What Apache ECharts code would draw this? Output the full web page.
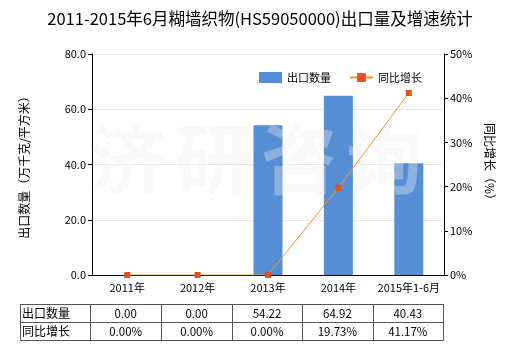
<!DOCTYPE html>
<html><head><meta charset="utf-8">
<script src="https://cdn.jsdelivr.net/npm/echarts@6/dist/echarts.min.js"></script>
<style>html,body{margin:0;padding:0;background:#fff}#c{width:520px;height:350px}</style>
</head><body><div id="c"></div>
<script>
const title = '2011-2015年6月糊墙织物(HS59050000)出口量及增速统计';
const categories = ['2011年','2012年','2013年','2014年','2015年1-6月'];
const exportQty = [0.00, 0.00, 54.22, 64.92, 40.43];
const yoyGrowth = [0.00, 0.00, 0.00, 19.73, 41.17];
const seriesNames = ['出口数量','同比增长'];
const leftTicks = [0, 20, 40, 60, 80];
const rightTicks = [0, 10, 20, 30, 40, 50];
const watermark = ['济','研','咨','询'];

const FONT = '"Noto Sans CJK SC", "Noto Sans", sans-serif';
const gridL = 92, gridR = 444, gridT = 54, gridB = 275;
const tableL = 20;
const rowTops = [304, 322, 340];

const chart = echarts.init(document.getElementById('c'), null, {renderer:'canvas'});

const graphics = [];
const colW = (gridR - gridL) / categories.length;
const colXs = [tableL, gridL - 2];
for (let i = 1; i <= categories.length; i++) colXs.push(gridL + colW * i - 1);
const lineStyle = {stroke:'#555', lineWidth:1};
rowTops.forEach(y => graphics.push({type:'line', shape:{x1:tableL, y1:y+0.5, x2:Math.round(colXs[colXs.length-1])+0.5, y2:y+0.5}, style:lineStyle, silent:true}));
colXs.forEach(x => graphics.push({type:'line', shape:{x1:Math.round(x)+0.5, y1:rowTops[0], x2:Math.round(x)+0.5, y2:rowTops[2]+0.5}, style:lineStyle, silent:true}));
const rows = [
  {name: seriesNames[0], vals: exportQty.map(v => v.toFixed(2))},
  {name: seriesNames[1], vals: yoyGrowth.map(v => v.toFixed(2) + '%')}
];
rows.forEach((r, ri) => {
  const yc = (rowTops[ri] + rowTops[ri+1]) / 2 + 1;
  graphics.push({type:'text', x: tableL + 2, y: yc - 1, style:{text:r.name, font:'12px ' + FONT, fill:'#000', verticalAlign:'middle'}, silent:true});
  r.vals.forEach((v, ci) => {
    const xc = (colXs[ci+1] + colXs[ci+2]) / 2;
    graphics.push({type:'text', x: xc, y: yc, style:{text:v, font:'11.5px ' + FONT, fill:'#000', align:'center', verticalAlign:'middle'}, silent:true});
  });
});

const wmTitles = watermark.map((ch, i) => ({
  text: ch, left: 128 + i * 85.5 - 38, top: 120, padding: 0, zlevel: 1, z: 10,
  textStyle: {fontFamily: FONT, fontSize: 76, fontWeight: 'bold', lineHeight: 78, color: 'rgba(238,238,238,0.36)'}
}));

chart.setOption({
  animation:false,
  backgroundColor:'#fff',
  title:[{text:title, left:'center', top:5, textStyle:{fontFamily:FONT, fontSize:16.5, fontWeight:'normal', color:'#000'}}].concat(wmTitles),
  legend:{
    left:254, top:67, itemWidth:23, itemHeight:11, itemGap:18, zlevel:2,
    textStyle:{fontFamily:FONT, fontSize:11, color:'#000'},
    data:[{name:seriesNames[0], icon:'rect'}, {name:seriesNames[1]}]
  },
  grid:{left:gridL, right:520-gridR, top:gridT, bottom:350-gridB, containLabel:false},
  xAxis:{
    type:'category', data:categories,
    axisLine:{lineStyle:{color:'#000', width:1}},
    axisTick:{alignWithLabel:true, length:4, lineStyle:{color:'#000'}},
    axisLabel:{fontFamily:FONT, fontSize:11, color:'#000', margin:7, interval:0}
  },
  yAxis:[
    {type:'value', min:0, max:80, interval:20,
     name:'出口数量（万千克/平方米）', nameLocation:'middle', nameGap:62, nameRotate:90,
     nameTextStyle:{fontFamily:FONT, fontSize:12, color:'#000'},
     axisLine:{show:true, lineStyle:{color:'#000'}},
     axisTick:{show:true, length:4, lineStyle:{color:'#000'}},
     axisLabel:{fontFamily:FONT, fontSize:11, color:'#000', margin:6, formatter:v => v.toFixed(1)},
     splitLine:{show:true, lineStyle:{color:'#ebe9df', width:1}}
    },
    {type:'value', min:0, max:50, interval:10,
     name:'同比增长（%）', nameLocation:'middle', nameGap:40, nameRotate:-90,
     nameTextStyle:{fontFamily:FONT, fontSize:12, color:'#000'},
     axisLine:{show:true, lineStyle:{color:'#000'}},
     axisTick:{show:true, length:4, lineStyle:{color:'#000'}},
     axisLabel:{fontFamily:FONT, fontSize:11, color:'#000', margin:6, formatter:'{value}%'},
     splitLine:{show:false}
    }
  ],
  series:[
    {name:seriesNames[0], type:'bar', data:exportQty, barWidth:29, yAxisIndex:0,
     itemStyle:{color:'#558ed5'}},
    {name:seriesNames[1], type:'line', data:yoyGrowth, yAxisIndex:1, zlevel:2,
     symbol:'rect', symbolSize:6,
     lineStyle:{color:'#f0922e', width:1},
     itemStyle:{color:'#e2501c'}}
  ],
  graphic: graphics
});
</script></body></html>
